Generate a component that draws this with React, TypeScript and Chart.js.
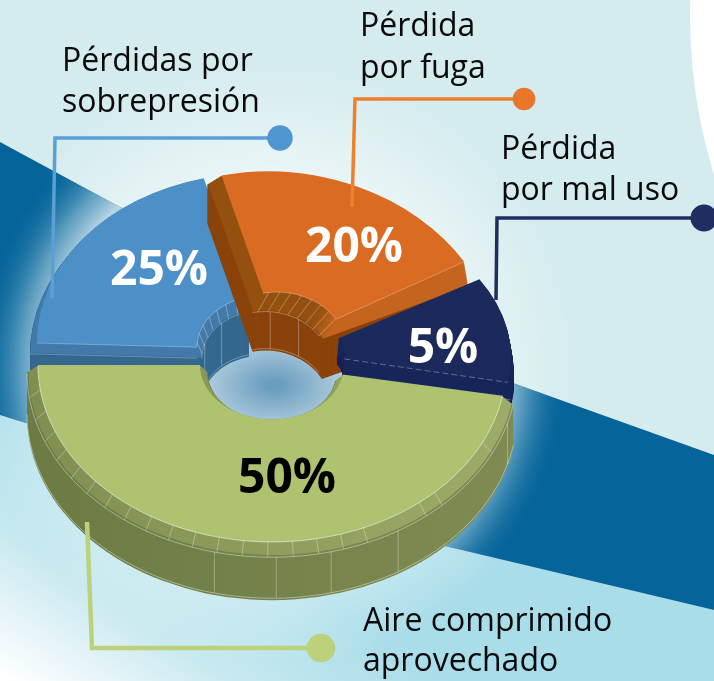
import React, { useEffect, useRef } from "react";
import { Chart, registerables } from "chart.js";

Chart.register(...registerables);

// Order: blue, orange, navy, green (clockwise from 9 o'clock, as the slices appear in the tilted ring)
const sliceNames = ["Pérdidas por sobrepresión", "Pérdida por fuga", "Pérdida por mal uso", "Aire comprimido aprovechado"];
const percentLabels = ["25%", "20%", "5%", "50%"];
// Angular sweep of each slice as it appears in the picture
const drawnSweeps = [74, 74, 42, 170];

const W = 714, H = 681;
const CX = 272, CY = 365;
const topColor = ["#4c90c7", "#d96b22", "#1b2a5a", "#afc270"];
const bevelColor = [["#437aaa", "#437aaa"], ["#94500f", "#c4641f"], ["#18265a", "#18265a"], ["#808e50", "#9dac68"]];
const bevelRange = [[-240, 240], [42, 56], [-240, 240], [-240, 240]];
const wallColor = [["#34688f", "#34688f"], ["#8a430b", "#8a430b"], ["#152055", "#152055"], ["#6c7a44", "#7e8b52"]];
const wallRange = [[-240, 240], [-240, 240], [-240, 240], [-240, 240]];
const shift = [[-5, -16], [9, -21], [31, -12], [0, 0]];
const tilt = [0.765, 0.797, 0.7, 0.756];
const skew = [0.026, 0.049, 0.02, 0];
const outerR = [230, 216, 208, 234];
const innerR = [70, 65, 42, 72];
const depth = [56, 54, 25, 50];
const bevel = [11, 15, 17, 7];
const grow = [7, 8, 3, 11];
const sideSlide = [0, -12, 0, 0];
const endWiden = [0, 5, 0, 0];
const ribColor = "rgba(255,255,255,0.38)";
const greenBevelRibs = [172, 165, 158, 151.5, 145, 139, 133, 127, 121, 115, 109, 103, 97, 91, 85, 79, 73, 67, 51, 46, 26];
const greenWallRibs = [103.6, 89, 76, 59, 16];
const labelStyle = [
  { x: 159, y: 285, c: "#ffffff" },
  { x: 354, y: 262, c: "#ffffff" },
  { x: 443, y: 363, c: "#ffffff" },
  { x: 287, y: 493, c: "#000000" },
];
const captions = [
  { t: "Pérdidas por", x: 62, y: 71 }, { t: "sobrepresión", x: 62, y: 112 },
  { t: "Pérdida", x: 360, y: 36 }, { t: "por fuga", x: 360, y: 78 },
  { t: "Pérdida", x: 501, y: 159 }, { t: "por mal uso", x: 501, y: 200 },
  { t: "Aire comprimido", x: 363, y: 631 }, { t: "aprovechado", x: 363, y: 671 },
];
const leaders = [
  { c: "#5a9fd6", d: "#4f96d0", w: 3.5, pts: [[280, 138], [55, 138], [52, 298]], r: 12.7 },
  { c: "#f07f2c", d: "#e8772a", w: 3.5, pts: [[524, 99], [355, 99], [352, 207]], r: 11.3 },
  { c: "#1f2d60", d: "#1f2d60", w: 3.5, pts: [[704, 218], [497, 218], [496, 300]], r: 13.5 },
  { c: "#bdd07a", d: "#bdd07a", w: 4.5, pts: [[321, 648], [92, 648], [87, 522]], r: 14.3 },
];
const bandPoly = [[0, 142], [120, 207], [513, 383], [714, 455], [714, 610], [445, 546], [26, 423], [0, 415]];

const backdrop = {
  id: "backdrop",
  beforeDraw(chart: any) {
    const ctx = chart.ctx;
    ctx.save();
    ctx.fillStyle = "#d5ecee";
    ctx.fillRect(0, 0, W, H);
    // lower pale area
    const low = ctx.createLinearGradient(40, 700, 170, 500);
    low.addColorStop(0, "#ffffff");
    low.addColorStop(0.5, "#c8e9f0");
    low.addColorStop(1, "#a9dde9");
    ctx.fillStyle = low;
    ctx.beginPath();
    ctx.moveTo(0, 415); ctx.lineTo(445, 546); ctx.lineTo(714, 610); ctx.lineTo(714, H); ctx.lineTo(0, H);
    ctx.closePath();
    ctx.fill();
    // glow around the ring
    const glow = ctx.createRadialGradient(CX, CY, 190, CX, CY, 300);
    glow.addColorStop(0, "rgba(255,255,255,0.5)");
    glow.addColorStop(1, "rgba(255,255,255,0)");
    ctx.fillStyle = glow;
    ctx.fillRect(0, 0, W, H);
    // band
    ctx.beginPath();
    bandPoly.forEach((p, i) => (i ? ctx.lineTo(p[0], p[1]) : ctx.moveTo(p[0], p[1])));
    ctx.closePath();
    ctx.fillStyle = "#05649a";
    ctx.fill();
    ctx.clip();
    const bg = ctx.createRadialGradient(CX, CY + 5, 225, CX, CY + 5, 298);
    bg.addColorStop(0, "rgba(205,228,236,0.88)");
    bg.addColorStop(0.35, "rgba(150,195,215,0.62)");
    bg.addColorStop(1, "rgba(5,100,154,0)");
    ctx.fillStyle = bg;
    ctx.fillRect(0, 0, W, H);
    ctx.restore();
    // white disc at the corner
    ctx.save();
    ctx.fillStyle = "#ffffff";
    ctx.beginPath();
    ctx.arc(1235, 15, 545, 0, Math.PI * 2);
    ctx.fill();
    ctx.restore();
  },
};

function sideFill(ctx: any, el: any, pair: string[], range: number[]) {
  if (pair[0] === pair[1]) return pair[0];
  const g = ctx.createLinearGradient(el.x + range[0], 0, el.x + range[1], 0);
  g.addColorStop(0, pair[0]);
  g.addColorStop(1, pair[1]);
  return g;
}

const ring3d = {
  id: "ring3d",
  beforeDatasetsDraw(chart: any) {
    const ctx = chart.ctx;
    const arcs = chart.getDatasetMeta(0).data;
    // hole floor
    ctx.save();
    ctx.translate(CX + 2, CY + 20);
    ctx.scale(1, 0.62);
    const hole = ctx.createRadialGradient(0, 0, 8, 0, 0, 76);
    hole.addColorStop(0, "#6a9ebf");
    hole.addColorStop(1, "#b8d2e2");
    ctx.fillStyle = hole;
    ctx.beginPath();
    ctx.arc(0, 0, 76, 0, Math.PI * 2);
    ctx.fill();
    ctx.restore();

    arcs.forEach((el: any, i: number) => {
      const o = el.options, oR = el.outerRadius, iR = el.innerRadius, oE = el.endAngle, oC = el.circumference;
      const tx = CX + shift[i][0], ty = CY + shift[i][1];
      const t = tilt[i], k = skew[i];
      const rad = Math.PI / 180;
      // u runs from 0 at the top face to 1 at the foot of the chamfer
      const paint = (d: number, fill: any, u: number) => {
        const g = grow[i] * u;
        const widen = endWiden[i] * rad * u;
        el.options = { ...o, backgroundColor: fill, borderWidth: 0, spacing: 0 };
        el.outerRadius = outerR[i] + g;
        el.innerRadius = Math.max(innerR[i] - g * 0.7, 1);
        el.endAngle = oE + widen;
        el.circumference = oC + widen;
        ctx.save();
        ctx.translate(tx + sideSlide[i] * u, ty + d);
        ctx.transform(1, k, 0, t, 0, 0);
        ctx.translate(-el.x, -el.y);
        el.draw(ctx);
        ctx.restore();
      };
      const wall = sideFill(ctx, el, wallColor[i], wallRange[i]);
      const bev = sideFill(ctx, el, bevelColor[i], bevelRange[i]);
      for (let d = depth[i]; d >= bevel[i]; d--) paint(d, wall, 1);
      for (let d = bevel[i] - 1; d > 0; d--) paint(d, bev, d / bevel[i]);
      paint(0, topColor[i], 0);
      el.endAngle = oE; el.circumference = oC;

      // facet lines
      const pt = (a: number, r: number, d: number, u = d > 0 ? 1 : 0) => [
        tx + sideSlide[i] * u + Math.cos(a) * r,
        ty + d + Math.sin(a) * r * t + Math.cos(a) * r * k,
      ];
      const line = (p: number[], q: number[]) => { ctx.beginPath(); ctx.moveTo(p[0], p[1]); ctx.lineTo(q[0], q[1]); ctx.stroke(); };
      const arcLine = (a0: number, a1: number, r: number, d: number) => {
        ctx.beginPath();
        for (let a = a0, first = true; a <= a1 + 1e-6; a += 0.02, first = false) {
          const p = pt(a, r, d);
          if (first) ctx.moveTo(p[0], p[1]); else ctx.lineTo(p[0], p[1]);
        }
        ctx.stroke();
      };
      ctx.save();
      ctx.strokeStyle = ribColor;
      ctx.lineWidth = 0.8;
      const a0 = el.startAngle, a1 = el.endAngle;
      if (i === 3) {
        greenBevelRibs.forEach((deg) => line(pt(deg * rad, outerR[i], 0), pt(deg * rad, outerR[i] + grow[i], bevel[i])));
        greenWallRibs.forEach((deg) => line(pt(deg * rad, outerR[i] + grow[i], bevel[i]), pt(deg * rad, outerR[i] + grow[i], depth[i] - 2)));
        ctx.strokeStyle = "rgba(255,255,255,0.7)";
        arcLine(a0, a1, outerR[i], 0);
        ctx.strokeStyle = "rgba(255,255,255,0.5)";
        arcLine(a0, a1, outerR[i] + grow[i], bevel[i]);
        arcLine(a0, a1, outerR[i] + grow[i], depth[i] - 2);
      } else if (i === 1 || i === 0) {
        const g = grow[i] * 0.7;
        const s = a0, e = a1;
        for (let a = s + 0.09; a < e; a += 0.17) line(pt(a, innerR[i], 0, 0), pt(a, innerR[i] - g, bevel[i]));
        for (let a = s + 0.3; a < e; a += 0.5) line(pt(a, innerR[i] - g, bevel[i]), pt(a, innerR[i] - g, depth[i] - 2));
        arcLine(s, e, innerR[i], 0);
        arcLine(s, e, innerR[i] - g, bevel[i]);
        arcLine(s, e, innerR[i] - g, depth[i] - 2);
      }
      // seam along the lower cut face
      if (i === 0 || i === 1 || i === 2) {
        const cut = i === 0 ? a0 : a1;
        ctx.strokeStyle = i === 2 ? "rgba(190,190,220,0.55)" : "rgba(255,255,255,0.35)";
        if (i === 2) ctx.setLineDash([6, 3]);
        line(pt(cut, innerR[i], 0), pt(cut, outerR[i], 0));
        if (i !== 1) line(pt(cut, innerR[i], bevel[i]), pt(cut, outerR[i] + grow[i], bevel[i]));
        ctx.setLineDash([]);
      }
      ctx.restore();
      el.options = o; el.outerRadius = oR; el.innerRadius = iR;
    });
    return false;
  },
  afterDraw(chart: any) {
    const ctx = chart.ctx;
    ctx.save();
    leaders.forEach((l) => {
      ctx.strokeStyle = l.c;
      ctx.lineWidth = l.w;
      ctx.lineJoin = "miter";
      ctx.beginPath();
      l.pts.forEach((p, i) => (i ? ctx.lineTo(p[0], p[1]) : ctx.moveTo(p[0], p[1])));
      ctx.stroke();
      ctx.fillStyle = l.d;
      ctx.beginPath();
      ctx.arc(l.pts[0][0], l.pts[0][1], l.r, 0, Math.PI * 2);
      ctx.fill();
    });
    ctx.fillStyle = "#0a0a0a";
    ctx.font = '32px "Open Sans"';
    ctx.textAlign = "left";
    ctx.textBaseline = "alphabetic";
    captions.forEach((c) => ctx.fillText(c.t, c.x, c.y));
    ctx.font = 'bold 48px "Open Sans"';
    ctx.textAlign = "center";
    percentLabels.forEach((t, i) => {
      ctx.fillStyle = labelStyle[i].c;
      ctx.fillText(t, labelStyle[i].x, labelStyle[i].y);
    });
    ctx.restore();
  },
};

export default function App() {
  const ref = useRef<HTMLCanvasElement>(null);
  useEffect(() => {
    document.body.style.margin = "0";
    const chart = new Chart(ref.current!, {
      type: "doughnut",
      data: {
        labels: sliceNames,
        datasets: [{ data: drawnSweeps, backgroundColor: topColor, borderWidth: 0 }],
      },
      options: {
        responsive: false,
        animation: false,
        rotation: 270,
        radius: 237,
        cutout: "30%",
        layout: { padding: 0 },
        plugins: { legend: { display: false }, tooltip: { enabled: false } },
        events: [],
      },
      plugins: [backdrop, ring3d],
    } as any);
    return () => chart.destroy();
  }, []);
  return <canvas ref={ref} width={W} height={H} style={{ display: "block" }} />;
}
